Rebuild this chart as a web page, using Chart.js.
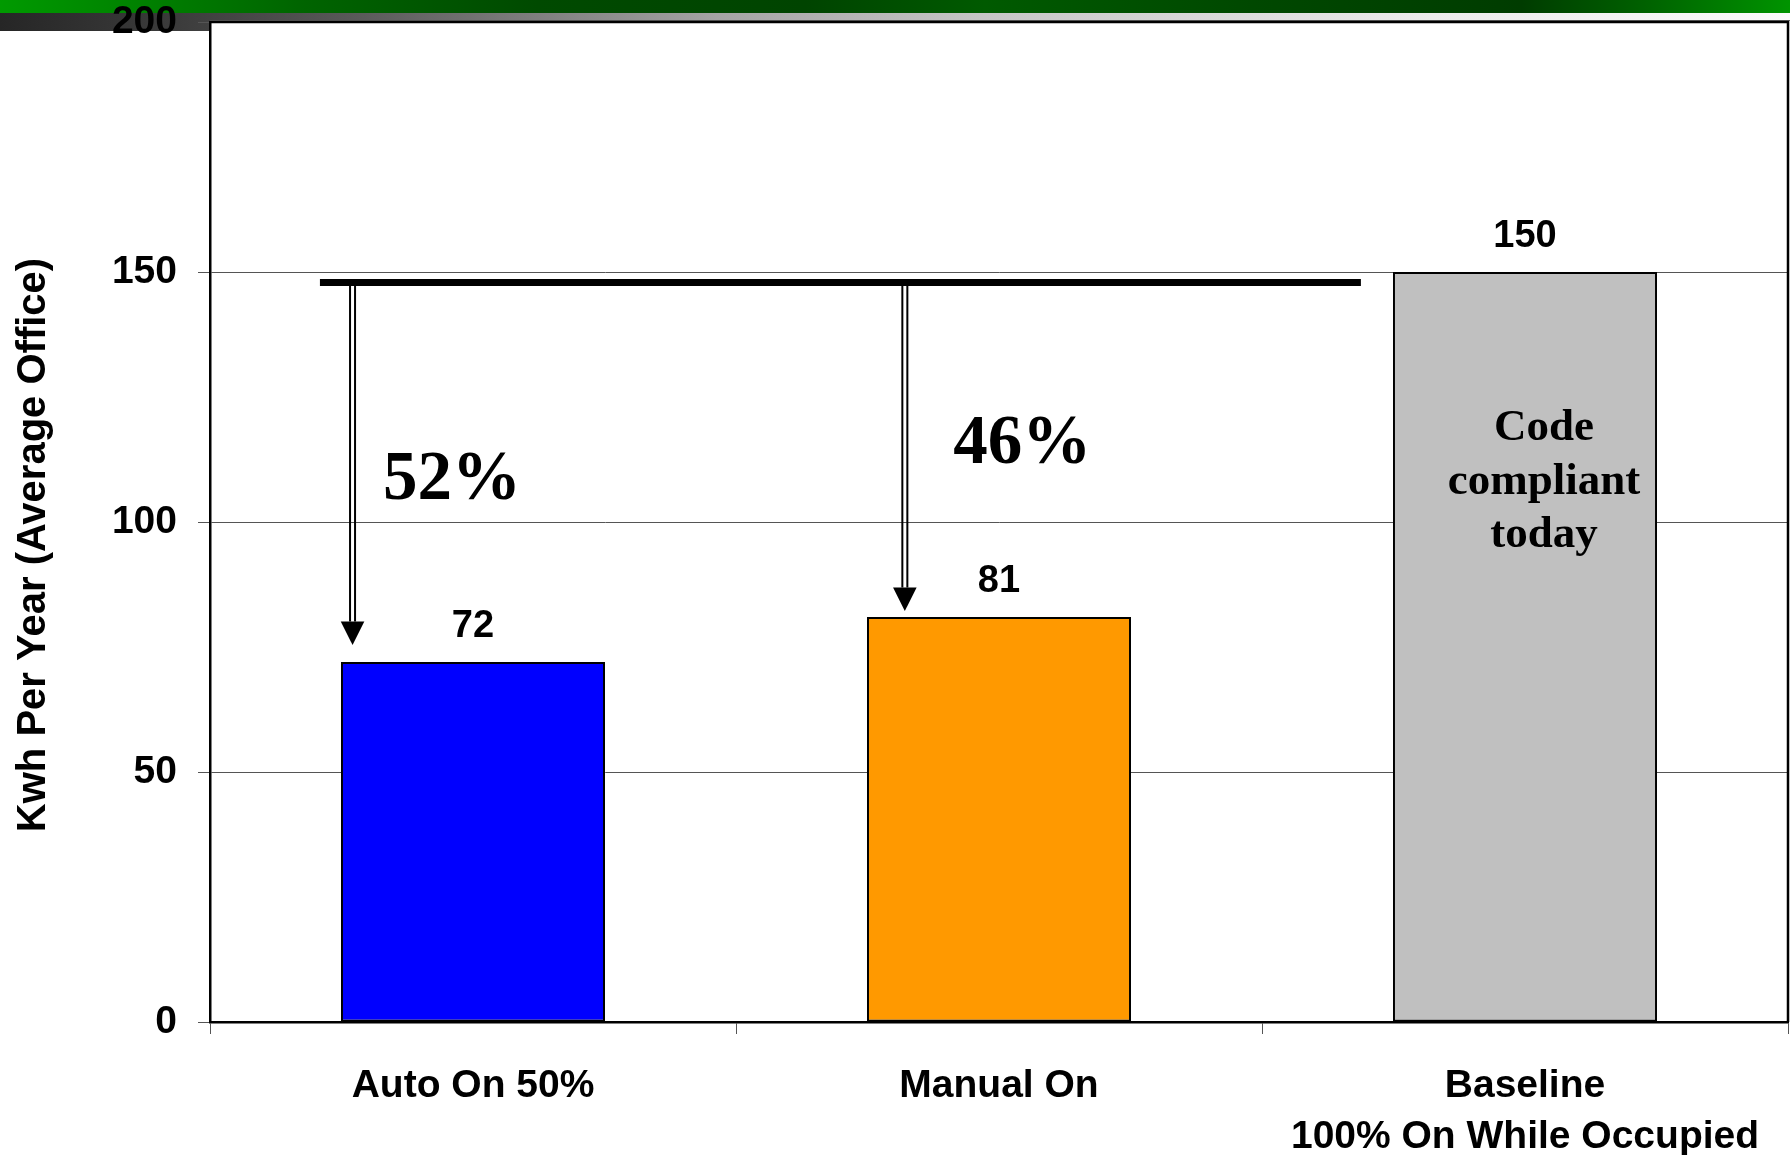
<!DOCTYPE html>
<html>
<head>
<meta charset="utf-8">
<script src="https://cdn.jsdelivr.net/npm/chart.js@4.4.1/dist/chart.umd.min.js"></script>
<style>
  html, body { margin: 0; padding: 0; background: #fff; }
  canvas { display: block; }
</style>
</head>
<body>
<canvas id="kwh-chart" width="1790" height="1155"></canvas>
<script>
// chart data
const categories = ["Auto On 50%", "Manual On", ["Baseline", "100% On While Occupied"]];
const kwhValues = [72, 81, 150];
const barColors = ["#0000ff", "#ff9900", "#c0c0c0"];
const yTicks = [0, 50, 100, 150, 200];
const savingsLabels = ["52%", "46%"];
const baselineNote = ["Code", "compliant", "today"];

const sansFont = "Arial, 'Liberation Sans', sans-serif";
const serifFont = "'Times New Roman', 'Liberation Serif', serif";

// slide header strip and white plot background
const backgroundPlugin = {
    id: "background",
    beforeDraw(chart) {
        const {ctx, width, chartArea} = chart;
        ctx.save();
        ctx.fillStyle = "#fff";
        ctx.fillRect(0, 0, width, chart.height);

        const green = ctx.createLinearGradient(0, 0, width, 0);
        green.addColorStop(0, "#009a00");
        green.addColorStop(0.17, "#006400");
        green.addColorStop(0.3, "#004a00");
        green.addColorStop(0.45, "#004400");
        green.addColorStop(0.55, "#005a00");
        green.addColorStop(0.7, "#004800");
        green.addColorStop(0.85, "#003c00");
        green.addColorStop(0.92, "#006200");
        green.addColorStop(1, "#009400");
        ctx.fillStyle = green;
        ctx.fillRect(0, 0, width, 13);

        const grey = ctx.createLinearGradient(0, 0, width, 0);
        grey.addColorStop(0, "#262626");
        grey.addColorStop(0.1, "#3c3c3c");
        grey.addColorStop(0.2, "#5a5a5a");
        grey.addColorStop(0.4, "#a4a4a4");
        grey.addColorStop(0.55, "#c6c6c6");
        grey.addColorStop(0.8, "#ececec");
        grey.addColorStop(1, "#fafafa");
        ctx.fillStyle = grey;
        ctx.fillRect(0, 13, width, 18);

        ctx.fillStyle = "#fff";
        ctx.fillRect(chartArea.left, chartArea.top, chartArea.right - chartArea.left, chartArea.bottom - chartArea.top);
        ctx.fillStyle = "#6a6a6a";
        ctx.fillRect(chartArea.left, chartArea.top - 2, width - chartArea.left, 1);
        ctx.restore();
    }
};

// value labels, savings line and arrows, notes, frame
const annotationPlugin = {
    id: "annotations",
    afterDatasetsDraw(chart) {
        const {ctx, chartArea} = chart;
        const x = chart.scales.x;
        const y = chart.scales.y;
        const meta = chart.getDatasetMeta(0);
        ctx.save();

        // values above bars
        ctx.fillStyle = "#000";
        ctx.font = "bold 38px " + sansFont;
        ctx.textAlign = "center";
        ctx.textBaseline = "alphabetic";
        meta.data.forEach((bar, i) => {
            ctx.fillText(String(kwhValues[i]), bar.x, bar.y - 25);
        });

        // thick reference line
        const lineY = y.getPixelForValue(147.9);
        ctx.fillRect(x.getPixelForValue(-0.291), lineY - 3.5, x.getPixelForValue(1.688) - x.getPixelForValue(-0.291), 7);

        // arrows down to the two bars
        const arrows = [[-0.229, 75.4], [0.821, 82.2]];
        arrows.forEach(([cx, tip]) => {
            const ax = x.getPixelForValue(cx);
            const tipY = y.getPixelForValue(tip);
            const headTop = tipY - 23.5;
            ctx.fillRect(ax - 3.5, lineY, 2, headTop - lineY);
            ctx.fillRect(ax + 1.5, lineY, 2, headTop - lineY);
            ctx.beginPath();
            ctx.moveTo(ax - 11.8, headTop);
            ctx.lineTo(ax + 11.8, headTop);
            ctx.lineTo(ax, tipY);
            ctx.closePath();
            ctx.fill();
        });

        // savings percentages
        ctx.font = "bold 69px " + serifFont;
        ctx.fillText(savingsLabels[0], x.getPixelForValue(-0.04), y.getPixelForValue(104.7));
        ctx.fillText(savingsLabels[1], x.getPixelForValue(1.044), y.getPixelForValue(111.8));

        // note inside baseline bar
        ctx.font = "bold 45px " + serifFont;
        const noteX = meta.data[2].x + 19;
        baselineNote.forEach((line, i) => {
            ctx.fillText(line, noteX, y.getPixelForValue(116.4) + i * 53.5);
        });

        // plot frame (top and right)
        ctx.strokeStyle = "#000";
        ctx.lineWidth = 2.5;
        ctx.beginPath();
        ctx.moveTo(chartArea.left, chartArea.top);
        ctx.lineTo(chartArea.right, chartArea.top);
        ctx.lineTo(chartArea.right, chartArea.bottom);
        ctx.stroke();
        ctx.restore();
    },
    afterDraw(chart) {
        const {ctx} = chart;
        ctx.save();
        ctx.translate(34, 545);
        ctx.rotate(-Math.PI / 2);
        ctx.fillStyle = "#000";
        ctx.font = "bold 40px " + sansFont;
        ctx.textAlign = "center";
        ctx.textBaseline = "middle";
        ctx.fillText("Kwh Per Year (Average Office)", 0, 0);
        ctx.restore();
    }
};

new Chart(document.getElementById("kwh-chart"), {
    type: "bar",
    data: {
        labels: categories,
        datasets: [{
            data: kwhValues,
            backgroundColor: barColors,
            borderColor: "#000",
            borderWidth: 2,
            borderSkipped: false,
            categoryPercentage: 1,
            barPercentage: 0.502
        }]
    },
    options: {
        responsive: false,
        devicePixelRatio: 1,
        animation: false,
        events: [],
        layout: {padding: {top: 22, right: 2, left: 0, bottom: 0}},
        plugins: {
            legend: {display: false},
            tooltip: {enabled: false}
        },
        scales: {
            x: {
                afterFit: (scale) => {
                    scale.height = 133;
                    scale.paddingLeft = 0;
                    scale.paddingRight = 0;
                },
                grid: {
                    offset: true,
                    drawOnChartArea: false,
                    drawTicks: true,
                    tickLength: 12,
                    color: "#555"
                },
                border: {display: true, color: "#000", width: 2.5},
                ticks: {
                    color: "#000",
                    padding: 27,
                    maxRotation: 0,
                    autoSkip: false,
                    font: {family: sansFont, size: 39, weight: "bold", lineHeight: "51px"}
                }
            },
            y: {
                min: 0,
                max: 200,
                afterFit: (scale) => {
                    scale.width = 210;
                    scale.paddingTop = 0;
                    scale.paddingBottom = 0;
                },
                afterBuildTicks: (scale) => { scale.ticks = yTicks.map(v => ({value: v})); },
                grid: {
                    color: "#555",
                    lineWidth: 1,
                    tickLength: 12
                },
                border: {display: true, color: "#000", width: 2.5},
                ticks: {
                    color: "#000",
                    padding: 21,
                    font: {family: sansFont, size: 39, weight: "bold", lineHeight: 1}
                }
            }
        }
    },
    plugins: [backgroundPlugin, annotationPlugin]
});
</script>
</body>
</html>
